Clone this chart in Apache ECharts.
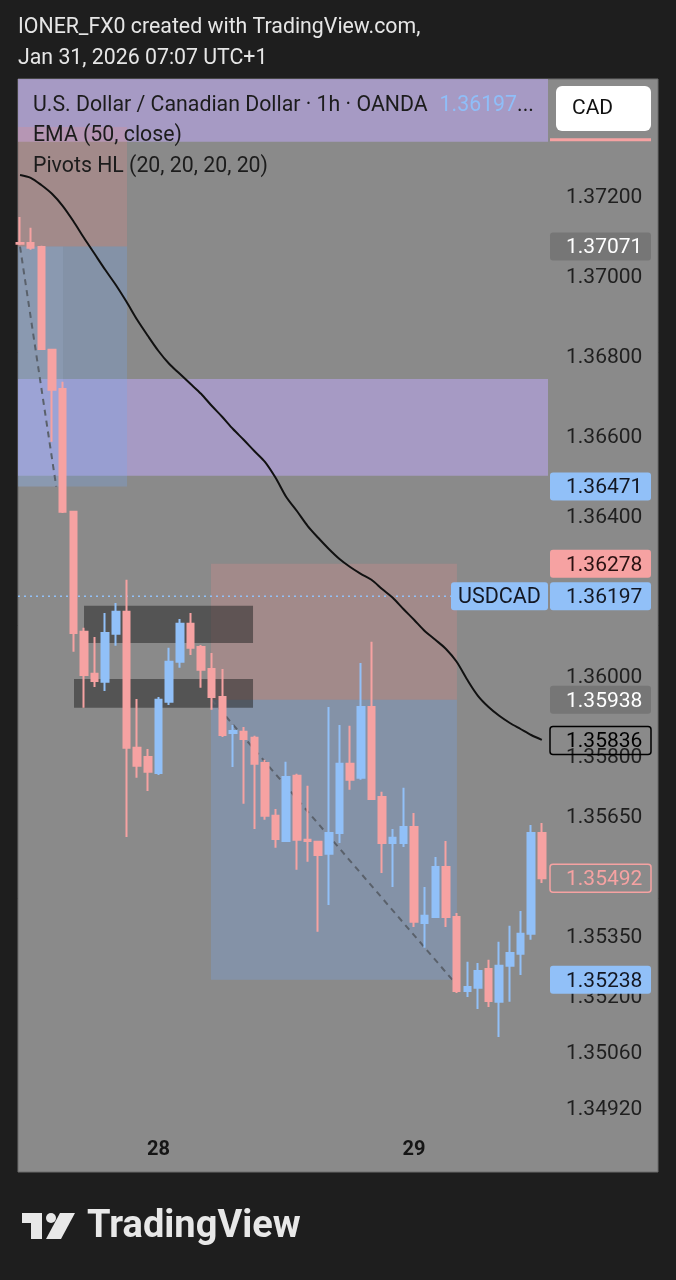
<!DOCTYPE html>
<html><head><meta charset="utf-8">
<script src="https://cdn.jsdelivr.net/npm/echarts@6/dist/echarts.min.js"></script>
<style>html,body{margin:0;padding:0;background:#1e1e1e;}#c{width:676px;height:1280px;}</style>
</head><body><div id="c"></div>
<script>
// ---------- DATA ----------
const opens = [1.37080,1.37080,1.37070,1.36813,1.36715,1.36408,1.36108,1.36003,1.35983,1.36103,
1.36158,1.35818,1.35795,1.35755,1.35933,1.36033,1.36128,1.36070,1.36015,1.35945,
1.35855,1.35858,1.35843,1.35780,1.35648,1.35585,1.35748,1.35588,1.35583,1.35553,
1.35605,1.35778,1.35743,1.35920,1.35695,1.35580,1.35580,1.35620,1.35380,1.35395,
1.35520,1.35395,1.35210,1.35218,1.35265,1.35183,1.35273,1.35303,1.35353,1.35605];
const closes = [1.37078,1.37068,1.36815,1.36713,1.36408,1.36105,1.36000,1.35985,1.36105,1.36158,
1.35818,1.35773,1.35758,1.35938,1.36033,1.36128,1.36068,1.36013,1.35945,1.35850,
1.35860,1.35840,1.35778,1.35648,1.35590,1.35745,1.35588,1.35585,1.35550,1.35605,
1.35778,1.35738,1.35920,1.35690,1.35580,1.35593,1.35620,1.35383,1.35398,1.35520,
1.35395,1.35210,1.35220,1.35260,1.35185,1.35273,1.35305,1.35353,1.35605,1.35492];
const lows = [1.37075,1.37063,1.36813,1.36583,1.36405,1.36058,1.35918,1.35970,1.35960,1.36073,
1.35595,1.35743,1.35710,1.35750,1.35925,1.36018,1.36050,1.35968,1.35913,1.35845,
1.35770,1.35678,1.35615,1.35638,1.35568,1.35583,1.35513,1.35533,1.35358,1.35425,
1.35580,1.35713,1.35738,1.35688,1.35505,1.35470,1.35570,1.35370,1.35318,1.35393,
1.35370,1.35205,1.35195,1.35165,1.35170,1.35095,1.35183,1.35250,1.35338,1.35480];
const highs = [1.37145,1.37118,1.37073,1.36815,1.36733,1.36410,1.36118,1.36095,1.36155,1.36180,
1.36238,1.35940,1.35815,1.35945,1.36068,1.36140,1.36155,1.36075,1.36055,1.36015,
1.35875,1.35870,1.35848,1.35788,1.35665,1.35783,1.35753,1.35723,1.35585,1.35920,
1.35875,1.35873,1.36030,1.36083,1.35708,1.35615,1.35718,1.35655,1.35470,1.35545,
1.35585,1.35405,1.35283,1.35280,1.35288,1.35333,1.35373,1.35410,1.35625,1.35630];
const ema50 = [1.37250,1.37243,1.37225,1.37203,1.37173,1.37135,1.37093,1.37053,1.37013,1.36975,
1.36933,1.36888,1.36848,1.36810,1.36778,1.36753,1.36728,1.36703,1.36673,1.36645,
1.36615,1.36588,1.36560,1.36533,1.36493,1.36445,1.36410,1.36373,1.36343,1.36315,
1.36290,1.36270,1.36253,1.36238,1.36215,1.36193,1.36165,1.36138,1.36110,1.36088,
1.36065,1.36033,1.35988,1.35948,1.35920,1.35898,1.35880,1.35865,1.35850,1.35838];
const priceTicks = [1.37200,1.37000,1.36800,1.36600,1.36400,1.36200,1.36000,1.35800,1.35650,1.35350,1.35200,1.35060,1.34920];
const dayTickIdx = [13, 37];
const dayTickText = ['28', '29'];
const lastPrice = 1.36197;
const symbolName = 'USDCAD';
// zones: [barFrom, barTo, priceA, priceB, kind]
const zones = [
  [-0.19, 49.58, 1.37490, 1.37333, 0],   // purple top zone
  [-0.19, 49.58, 1.36740, 1.36498, 0],   // purple mid zone
  [-0.19, 10.05, 1.37370, 1.37071, 1],   // position 1 stop
  [-0.19, 10.05, 1.37071, 1.36471, 2],   // position 1 target
  [-0.19, 4.04, 1.37071, 1.36471, 3],    // position 1 filled part
  [17.93, 41.03, 1.36278, 1.35938, 1],   // position 2 stop
  [17.93, 41.03, 1.35938, 1.35238, 2],   // position 2 target
  [6.01, 21.88, 1.36173, 1.36080, 4],    // dark zone A
  [5.07, 21.88, 1.35990, 1.35918, 4]     // dark zone B
];
const pathLine1 = [[0, 1.37071], [3.4, 1.36471]];
const pathLine2 = [[18.0, 1.35938], [40.6, 1.35238]];
const priceLineEnd = 40.47;
// right-side price tags: [value, kind]
const priceTags = [
  [1.37071, 'grey'], [1.36471, 'blue'], [1.36278, 'red'], [1.36197, 'blue'],
  [1.35938, 'grey'], [1.35836, 'outlineBlack'], [1.35492, 'outlineRed'], [1.35238, 'blue']
];
const hiddenTagValue = 1.37338;

// ---------- STYLE ----------
const X_MIN = -0.19, X_MAX = 49.58;
const UP = '#91c0f8', DOWN = '#f6a2a2';
const zoneFill = ['rgba(185,165,235,0.6)', 'rgba(225,140,140,0.28)', 'rgba(120,170,245,0.28)', 'rgba(200,220,255,0.10)', 'rgba(35,35,35,0.52)'];
const tagStyle = {
  grey: {fill:'#767676', stroke:null, text:'#ffffff'},
  blue: {fill:UP, stroke:null, text:'#131722'},
  red: {fill:DOWN, stroke:null, text:'#2a1212'},
  outlineBlack: {fill:'rgba(0,0,0,0)', stroke:'#000000', text:'#000000'},
  outlineRed: {fill:'rgba(0,0,0,0)', stroke:DOWN, text:DOWN}
};
const FONT = 'Roboto';

const chart = echarts.init(document.getElementById('c'), null, {renderer:'canvas', width:676, height:1280});

const option = {
  backgroundColor: '#1e1e1e',
  animation: false,
  grid: {left:18, right:128, top:79, bottom:147, containLabel:false},
  xAxis: {
    type:'value', min:X_MIN, max:X_MAX,
    splitLine:{show:false}, axisLine:{show:false}, axisTick:{show:false},
    axisLabel:{customValues:dayTickIdx, formatter:v => dayTickText[dayTickIdx.indexOf(Math.round(v))] || '',
      color:'#151515', fontSize:20, fontWeight:'bold', fontFamily:FONT, margin:7}
  },
  yAxis: {
    type:'value', position:'right', min:1.34855, max:1.37490,
    splitLine:{show:false}, axisLine:{show:false}, axisTick:{show:false},
    axisLabel:{customValues:priceTicks, formatter:v => v.toFixed(5), color:'#1f1f1f', fontSize:21, fontFamily:FONT, margin:18,
      verticalAlign:'top', lineHeight:6}
  },
  series: [
    {
      type:'custom', z:1, silent:true,
      data: zones,
      encode:{x:[0,1], y:[2,3]},
      renderItem: (params, api) => {
        const p0 = api.coord([api.value(0), api.value(2)]);
        const p1 = api.coord([api.value(1), api.value(3)]);
        const r = echarts.graphic.clipRectByRect(
          {x:Math.min(p0[0],p1[0]), y:Math.min(p0[1],p1[1]), width:Math.abs(p1[0]-p0[0]), height:Math.abs(p1[1]-p0[1])},
          {x:params.coordSys.x, y:params.coordSys.y, width:params.coordSys.width, height:params.coordSys.height});
        return r && {type:'rect', shape:r, style:{fill:zoneFill[api.value(4)]}};
      }
    },
    {
      type:'line', z:3, silent:true, symbol:'none',
      data: pathLine1, lineStyle:{color:'#5a616b', width:2, type:[6,5]}
    },
    {
      type:'line', z:3, silent:true, symbol:'none',
      data: pathLine2, lineStyle:{color:'#5a616b', width:2, type:[6,5]}
    },
    {
      type:'line', z:3, silent:true, symbol:'none',
      data: [[X_MIN, lastPrice], [priceLineEnd, lastPrice]], lineStyle:{color:UP, width:1.5, type:[2,4]}
    },
    {
      type:'candlestick', z:4, silent:true, barWidth:7,
      data: opens.map((o,i) => [i, o, closes[i], lows[i], highs[i]]),
      itemStyle:{color:UP, color0:DOWN, borderColor:UP, borderColor0:DOWN, borderWidth:2}
    },
    {
      type:'line', z:5, silent:true, symbol:'none', smooth:0.3,
      data: ema50.map((v,i) => [i, v]), lineStyle:{color:'#111111', width:2}
    }
  ]
};
chart.setOption(option);

// ---------- graphics: frame, header, tags, logo ----------
const g = [];
g.push({type:'rect', z:-5, silent:true, shape:{x:18, y:79, width:640, height:1093}, style:{fill:'#8a8a8a', stroke:'#6c6c6c', lineWidth:1}});
g.push({type:'text', z:10, x:18, y:28, style:{text:'IONER_FX0 created with TradingView.com,', fill:'#e6e6e6', font:'21.3px '+FONT, verticalAlign:'middle'}});
g.push({type:'text', z:10, x:18, y:59, style:{text:'Jan 31, 2026 07:07 UTC+1', fill:'#e6e6e6', font:'21.3px '+FONT, verticalAlign:'middle'}});
g.push({type:'text', z:10, x:33, y:106, style:{
  text:'{a|U.S. Dollar / Canadian Dollar · 1h · OANDA}{b|' + lastPrice.toFixed(5) + '}{a|...}',
  verticalAlign:'middle',
  rich:{a:{fill:'#1c1c1c', font:'21.3px '+FONT}, b:{fill:'#8fbef8', font:'21.3px '+FONT, padding:[0,0,0,12]}}}});
g.push({type:'text', z:10, x:33, y:136, style:{text:'EMA (50, close)', fill:'#1c1c1c', font:'21.3px '+FONT, verticalAlign:'middle'}});
g.push({type:'text', z:10, x:33, y:167, style:{text:'Pivots HL (20, 20, 20, 20)', fill:'#1c1c1c', font:'21.3px '+FONT, verticalAlign:'middle'}});

// hidden tag line under currency button
const hy = chart.convertToPixel({yAxisIndex:0}, hiddenTagValue);
g.push({type:'rect', z:10, shape:{x:550, y:hy-1.5, width:101, height:3}, style:{fill:DOWN}});
g.push({type:'rect', z:11, shape:{x:556, y:86, width:95, height:45, r:6}, style:{fill:'#ffffff'}});
g.push({type:'text', z:12, x:572, y:109, style:{text:'CAD', fill:'#111111', font:'21px '+FONT, verticalAlign:'middle'}});

priceTags.forEach(([v, kind]) => {
  const y = chart.convertToPixel({yAxisIndex:0}, v);
  const s = tagStyle[kind];
  g.push({type:'rect', z:20, shape:{x:550, y:y-14, width:101, height:28, r:3},
    style:{fill:s.fill, stroke:s.stroke || null, lineWidth:s.stroke ? 1.5 : 0}});
  g.push({type:'text', z:21, x:566, y:y+1.5, style:{text:v.toFixed(5), fill:s.text, font:'21px '+FONT, verticalAlign:'middle'}});
  if (v === lastPrice) {
    g.push({type:'rect', z:20, shape:{x:451, y:y-14, width:97, height:28, r:3}, style:{fill:s.fill}});
    g.push({type:'text', z:21, x:499.5, y:y+1.5, style:{text:symbolName, fill:s.text, font:'21.5px '+FONT, align:'center', verticalAlign:'middle'}});
  }
});

// TradingView logo
g.push({type:'rect', z:10, shape:{x:22, y:1213, width:20, height:10}, style:{fill:'#e8e8e8'}});
g.push({type:'rect', z:10, shape:{x:31, y:1213, width:11, height:26}, style:{fill:'#e8e8e8'}});
g.push({type:'circle', z:10, shape:{cx:51, cy:1218, r:5}, style:{fill:'#e8e8e8'}});
g.push({type:'polygon', z:10, shape:{points:[[60,1213],[75,1213],[61,1239],[46,1239]]}, style:{fill:'#e8e8e8'}});
g.push({type:'text', z:10, x:87, y:1227, style:{text:'TradingView', fill:'#e8e8e8', font:'bold 38px '+FONT, verticalAlign:'middle'}});

chart.setOption({graphic:{elements:g}});
</script>
</body></html>
